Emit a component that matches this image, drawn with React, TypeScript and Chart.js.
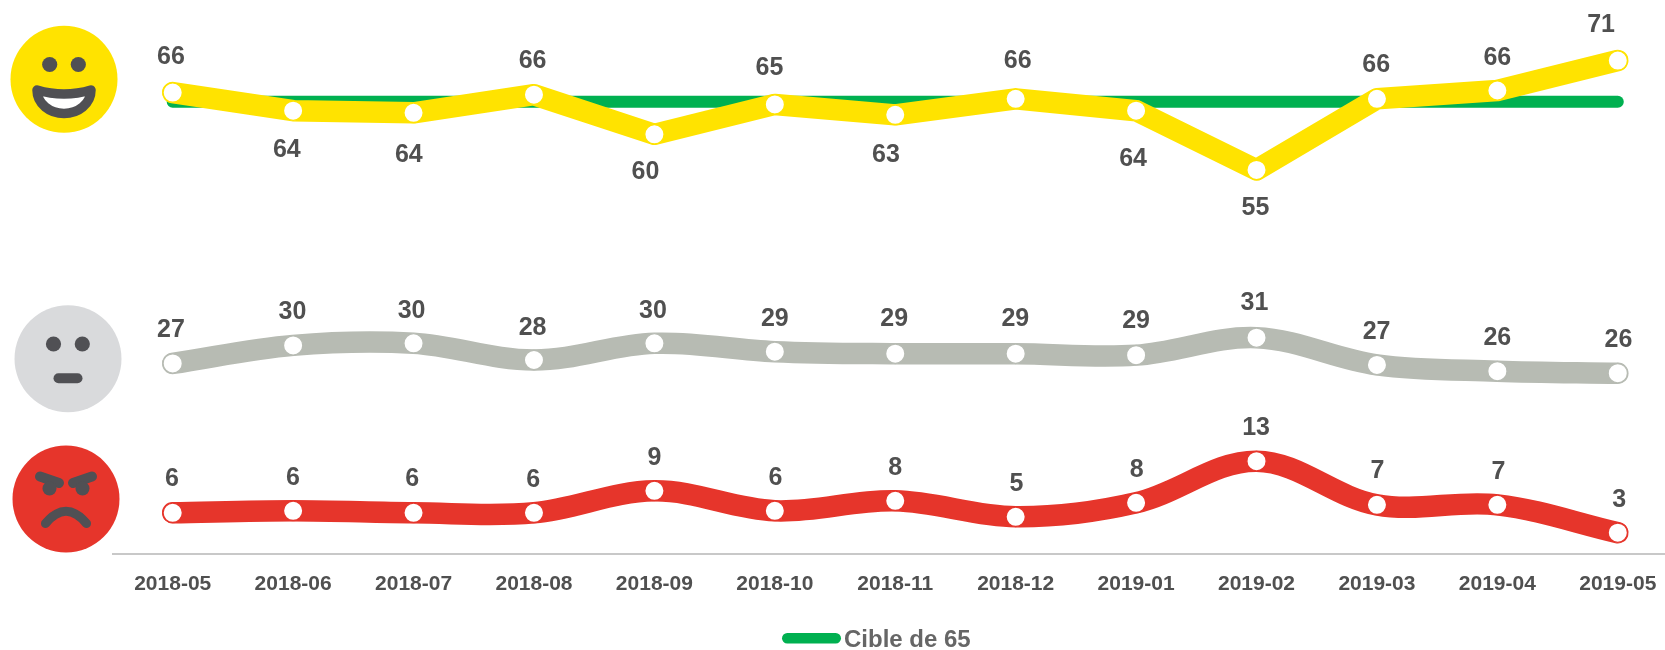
import React, { useEffect, useRef } from "react";
import { Chart, registerables } from "chart.js";

Chart.register(...registerables);

const months = ["2018-05", "2018-06", "2018-07", "2018-08", "2018-09", "2018-10", "2018-11", "2018-12", "2019-01", "2019-02", "2019-03", "2019-04", "2019-05"];

const happyValues = [66.3, 63.7, 63.4, 66.0, 60.3, 64.6, 63.1, 65.4, 63.7, 55.2, 65.4, 66.6, 70.9];
const neutralValues = [27.4, 30.0, 30.3, 27.9, 30.3, 29.1, 28.8, 28.8, 28.6, 31.1, 27.2, 26.3, 26.0];
const angryValues = [5.96, 6.25, 5.96, 5.96, 9.11, 6.25, 7.68, 5.39, 7.39, 13.37, 7.1, 7.1, 3.1];
const targetValues = [65, 65, 65, 65, 65, 65, 65, 65, 65, 65, 65, 65, 65];

const happyLabels = ["66", "64", "64", "66", "60", "65", "63", "66", "64", "55", "66", "66", "71"];
const neutralLabels = ["27", "30", "30", "28", "30", "29", "29", "29", "29", "31", "27", "26", "26"];
const angryLabels = ["6", "6", "6", "6", "9", "6", "8", "5", "8", "13", "7", "7", "3"];
const targetName = "Cible de 65";

// placement of the value labels, relative to their point
const happyOffsets = [[-1.7, -37.7], [-6.3, 37.6], [-4.7, 40.6], [-1.4, -35.7], [-9, 35.6], [-5.3, -38.7], [-9.3, 38.6], [2, -39.4], [-3, 46.6], [-1, 35.7], [-0.7, -35.7], [0, -34.7], [-16.7, -37.4]];
const neutralOffsets = [[-1.7, -35.3], [-0.7, -35], [-2, -34.3], [-1.4, -34.3], [-1.4, -34.7], [0, -34.3], [-1, -36.3], [-0.3, -36.3], [0, -36], [-2, -36.3], [-0.4, -34.7], [0, -35], [0.6, -34.7]];
const angryOffsets = [[-0.7, -36], [-0.3, -34.7], [-1.4, -36], [-0.7, -35], [0, -34.7], [0.7, -34.7], [0, -34.7], [0.7, -35], [0.7, -35], [-0.4, -35], [0.6, -35.4], [1, -34.7], [1.3, -34.4]];

const YELLOW = "#FFE300";
const GREY = "#B7BBB3";
const RED = "#E6352B";
const GREEN = "#00B050";
const TEXT = "#505050";
const FONT = "'Liberation Sans', Arial, sans-serif";

const valueLabelsPlugin = {
  id: "valueLabels",
  afterDatasetsDraw(chart: any) {
    const { ctx } = chart;
    const size = 25;
    ctx.save();
    ctx.font = `bold ${size}px ${FONT}`;
    ctx.fillStyle = TEXT;
    ctx.textAlign = "center";
    ctx.textBaseline = "alphabetic";
    chart.data.datasets.forEach((ds: any, di: number) => {
      if (!ds.valueLabels) return;
      const pts = chart.getDatasetMeta(di).data;
      ds.valueLabels.forEach((t: string, i: number) => {
        const [dx, dy] = ds.labelOffsets[i];
        ctx.fillText(t, pts[i].x + dx, pts[i].y + dy + size * 0.358);
      });
    });
    ctx.restore();
  },
};

const targetLegendPlugin = {
  id: "targetLegend",
  afterDraw(chart: any) {
    const { ctx } = chart;
    const ds = chart.data.datasets.find((d: any) => d.label === targetName);
    ctx.save();
    ctx.fillStyle = ds.borderColor;
    ctx.beginPath();
    ctx.roundRect(782, 633, 59, 10.5, 5.25);
    ctx.fill();
    ctx.font = `bold 24px ${FONT}`;
    ctx.fillStyle = "#666666";
    ctx.textAlign = "left";
    ctx.textBaseline = "alphabetic";
    ctx.fillText(ds.label, 844, 647.3);
    ctx.restore();
  },
};

const lineStyle = (color: string, tension: number) => ({
  borderColor: color,
  borderWidth: 21.5,
  borderCapStyle: "round" as const,
  borderJoinStyle: "round" as const,
  tension,
  clip: false as const,
  pointRadius: 9.7,
  pointBorderWidth: 1.4,
  pointBackgroundColor: "#FFFFFF",
  pointBorderColor: color,
});

function Faces() {
  const dark = "#505054";
  return (
    <svg width={1665} height={650} style={{ position: "absolute", left: 0, top: 0, pointerEvents: "none" }}>
      <circle cx={64} cy={79.3} r={53.5} fill={YELLOW} />
      <circle cx={49.7} cy={64.5} r={7.6} fill={dark} />
      <circle cx={78.3} cy={64.5} r={7.6} fill={dark} />
      <path d="M37,90 Q64,98 91,90 C91,104 78,113.5 64,113.5 C50,113.5 37,104 37,90 Z" fill="#FFFFFF" stroke={dark} strokeWidth={9.5} strokeLinejoin="round" />

      <circle cx={68} cy={358.7} r={53.5} fill="#D9DADC" />
      <circle cx={53.5} cy={344} r={7.6} fill={dark} />
      <circle cx={82.3} cy={344} r={7.6} fill={dark} />
      <line x1={58.5} y1={378.3} x2={77.5} y2={378.3} stroke={dark} strokeWidth={10} strokeLinecap="round" />

      <circle cx={66} cy={499} r={53.5} fill={RED} />
      <line x1={40} y1={476.5} x2={59} y2={483} stroke={dark} strokeWidth={10} strokeLinecap="round" />
      <line x1={92} y1={476.5} x2={73} y2={483} stroke={dark} strokeWidth={10} strokeLinecap="round" />
      <circle cx={49.5} cy={488.5} r={7} fill={dark} />
      <circle cx={82.5} cy={488.5} r={7} fill={dark} />
      <path d="M45.5,523.5 Q66,499 86.5,523.5" fill="none" stroke={dark} strokeWidth={9} strokeLinecap="round" />
    </svg>
  );
}

export default function App() {
  const ref = useRef<HTMLCanvasElement>(null);

  useEffect(() => {
    const chart = new Chart(ref.current as HTMLCanvasElement, {
      type: "line",
      data: {
        labels: months,
        datasets: [
          { label: "Satisfaits", data: happyValues, ...lineStyle(YELLOW, 0), valueLabels: happyLabels, labelOffsets: happyOffsets },
          { label: "Neutres", data: neutralValues, ...lineStyle(GREY, 0.35), valueLabels: neutralLabels, labelOffsets: neutralOffsets },
          { label: "Insatisfaits", data: angryValues, ...lineStyle(RED, 0.35), valueLabels: angryLabels, labelOffsets: angryOffsets },
          { label: targetName, data: targetValues, borderColor: GREEN, borderWidth: 12, borderCapStyle: "round", pointRadius: 0, tension: 0, clip: false },
        ] as any,
      },
      options: {
        animation: false,
        responsive: false,
        layout: { padding: { left: 112.5, right: 12, top: 10, bottom: 0 } },
        plugins: { legend: { display: false }, tooltip: { enabled: false } },
        scales: {
          x: {
            offset: true,
            grid: { display: false, drawTicks: false },
            border: { color: "#C8C8C8", width: 2 },
            ticks: { color: TEXT, font: { family: FONT, size: 21, weight: "bold" }, padding: 17, maxRotation: 0, autoSkip: false },
            afterFit: (s: any) => { s.height = 95.7; },
          },
          y: { display: false, min: 0, max: 78 },
        },
      },
      plugins: [valueLabelsPlugin, targetLegendPlugin],
    } as any);
    return () => chart.destroy();
  }, []);

  return (
    <div style={{ position: "absolute", left: 0, top: 0, width: 1665, height: 650, overflow: "hidden", background: "#FFFFFF" }}>
      <canvas ref={ref} width={1690} height={650} style={{ display: "block" }} />
      <Faces />
    </div>
  );
}
